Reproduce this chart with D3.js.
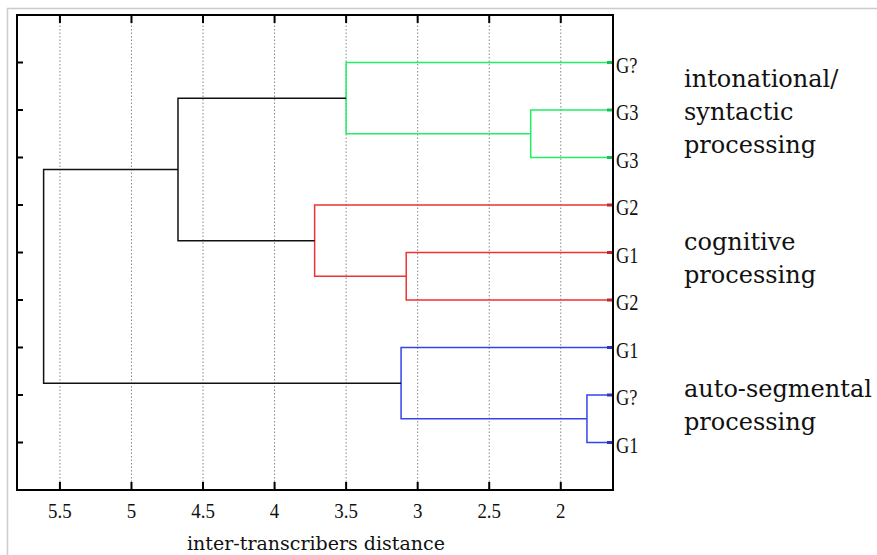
<!DOCTYPE html>
<html><head><meta charset="utf-8">
<script src="https://cdn.jsdelivr.net/npm/d3@7"></script>
<style>body{margin:0;background:#fff}svg{display:block}</style>
</head><body>
<script>
const leafLabels = ["G?","G3","G3","G2","G1","G2","G1","G?","G1"];
const leafClusters = [0,0,0,1,1,1,2,2,2];
// merges: [childA, childB, height, cluster]; leaves are "L#", merges "M#"
const merges = [
  ["L1","L2",2.21,0],
  ["L0","M0",3.50,0],
  ["L4","L5",3.08,1],
  ["L3","M2",3.72,1],
  ["M1","M3",4.675,-1],
  ["L7","L8",1.817,2],
  ["L6","M5",3.116,2],
  ["M4","M6",5.614,-1]
];
const clusterColors = ["#22ee66","#ee3333","#3344ee"];
const xTicks = [5.5,5,4.5,4,3.5,3,2.5,2];
const xDomain = [5.80,1.635];
const groupLabels = [["intonational/","syntactic","processing"],["cognitive","processing"],["auto-segmental","processing"]];
const axisTitle = "inter-transcribers distance";

const W=877,H=555, L=17,R=613,T=15,B=490;
const svg=d3.select("body").append("svg").attr("width",W).attr("height",H);
// outer frame
svg.append("path").attr("d",`M7.5,${H}V8.5H${W}`).attr("fill","none").attr("stroke","#cccccc").attr("stroke-width",1.5);

const x=d3.scaleLinear().domain(xDomain).range([L,R]);
const y=d3.scaleLinear().domain([0,10]).range([T,B]);
const serif="Liberation Serif";

// grid
svg.append("g").selectAll("line").data(xTicks).join("line")
  .attr("x1",d=>x(d)).attr("x2",d=>x(d)).attr("y1",T).attr("y2",B)
  .attr("stroke","#888").attr("stroke-width",1).attr("stroke-dasharray","1.5,2");

// dendrogram
const nodes={};
leafLabels.forEach((l,i)=>nodes["L"+i]={h:xDomain[1],pos:i+1});
const linkG=svg.append("g").attr("fill","none").attr("stroke-width",1.5);
merges.forEach((m,i)=>{
  const a=nodes[m[0]],b=nodes[m[1]];
  const col=m[3]<0?"#111":clusterColors[m[3]];
  linkG.append("path")
    .attr("d",`M${x(a.h)},${y(a.pos)}H${x(m[2])}V${y(b.pos)}H${x(b.h)}`)
    .attr("stroke",col);
  nodes["M"+i]={h:m[2],pos:(a.pos+b.pos)/2};
});

// right leaf ticks (colored)
svg.append("g").selectAll("line").data(leafLabels).join("line")
  .attr("x1",R-6).attr("x2",R).attr("y1",(d,i)=>y(i+1)).attr("y2",(d,i)=>y(i+1))
  .attr("stroke",(d,i)=>d3.color(clusterColors[leafClusters[i]]).darker(0.6)).attr("stroke-width",3);

// axes box
const axG=svg.append("g").attr("stroke","#000").attr("stroke-width",2).attr("fill","none");
axG.append("rect").attr("x",L).attr("y",T).attr("width",R-L).attr("height",B-T);
xTicks.forEach(v=>{
  axG.append("line").attr("x1",x(v)).attr("x2",x(v)).attr("y1",T).attr("y2",T+8);
  axG.append("line").attr("x1",x(v)).attr("x2",x(v)).attr("y1",B).attr("y2",B-8);
});
leafLabels.forEach((d,i)=>{
  axG.append("line").attr("x1",L).attr("x2",L+6).attr("y1",y(i+1)).attr("y2",y(i+1));
});

// tick labels
svg.append("g").selectAll("text").data(xTicks).join("text")
  .attr("transform",d=>`translate(${x(d)},518) scale(0.9,1)`)
  .attr("text-anchor","middle").attr("font-family",serif).attr("font-size",21).attr("fill","#111")
  .text(d=>d);

// leaf labels
svg.append("g").selectAll("text").data(leafLabels).join("text")
  .attr("transform",(d,i)=>`translate(616,${y(i+1)+10}) scale(0.8,1)`)
  .attr("font-family",serif).attr("font-size",23).attr("fill","#111").text(d=>d);

// axis title
svg.append("text").attr("x",316).attr("y",550).attr("text-anchor","middle")
  .attr("font-family","DejaVu Serif").attr("font-size",19).attr("fill","#111").text(axisTitle);

// group labels
const gy=[87,250,397];
groupLabels.forEach((lines,g)=>{
  const t=svg.append("text").attr("font-family","DejaVu Serif").attr("font-size",24).attr("fill","#111");
  lines.forEach((s,k)=>t.append("tspan").attr("x",684).attr("y",gy[g]+k*33).text(s));
});
</script>
</body></html>
